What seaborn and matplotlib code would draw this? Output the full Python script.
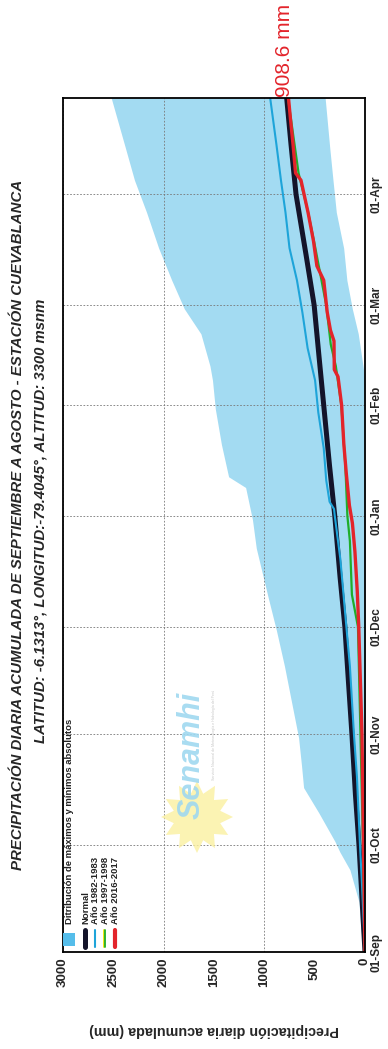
import matplotlib
matplotlib.use("Agg")
import matplotlib.pyplot as plt
import matplotlib.dates as mdates
from matplotlib.patches import Polygon, Rectangle
from matplotlib.lines import Line2D
import numpy as np
import pandas as pd
import seaborn as sns

# ---------------- data ----------------
band_dates = ["2016-09-01", "2016-09-07", "2016-09-15", "2016-09-19", "2016-09-24", "2016-09-29",
              "2016-10-02", "2016-10-10", "2016-10-17", "2016-10-23", "2016-10-31", "2016-11-10",
              "2016-11-20", "2016-11-30", "2016-12-09", "2016-12-23", "2016-12-31", "2017-01-09",
              "2017-01-12", "2017-01-21", "2017-01-31", "2017-02-08", "2017-02-12", "2017-02-21",
              "2017-02-28", "2017-03-08", "2017-03-17", "2017-03-27", "2017-04-05", "2017-04-14",
              "2017-04-28"]
band_max = [5, 40, 60, 100, 150, 250, 300, 460, 610, 630, 660, 730, 800, 880, 960, 1080, 1118,
            1186, 1355, 1426, 1487, 1515, 1540, 1630, 1795, 1920, 2050, 2170, 2290, 2380, 2521]
band_min = [0, 0, 0, 0, 0, 0, 0, 0, 0, 0, 0, 0, 0, 0, 0, 0, 0,
            0, 0, 0, 0, 0, 20, 67, 126, 180, 212, 285, 318, 350, 396]

normal_dates = ["2016-09-01", "2016-09-15", "2016-10-01", "2016-10-15", "2016-11-01", "2016-11-15",
                "2016-12-01", "2016-12-15", "2017-01-01", "2017-01-15", "2017-02-01", "2017-02-15",
                "2017-03-01", "2017-03-15", "2017-04-01", "2017-04-15", "2017-04-28"]
normal_mm = [0, 28, 60, 95, 130, 163, 200, 248, 300, 352, 410, 458, 505, 585, 685, 735, 778]

y8283_dates = ["2016-09-01", "2016-09-20", "2016-10-01", "2016-10-20", "2016-11-01", "2016-11-20",
               "2016-12-01", "2016-12-20", "2017-01-01", "2017-01-03", "2017-01-05", "2017-01-11",
               "2017-01-20", "2017-01-30", "2017-02-08", "2017-02-17", "2017-02-27", "2017-03-08",
               "2017-03-17", "2017-03-27", "2017-04-05", "2017-04-15", "2017-04-28"]
y8283_mm = [0, 30, 50, 80, 110, 150, 185, 245, 300, 308, 352, 385, 410, 464, 496, 570, 622, 676,
            750, 790, 835, 880, 942]

y9798_dates = ["2016-09-01", "2016-10-01", "2016-11-01", "2016-12-01", "2016-12-10", "2016-12-25",
               "2017-01-01", "2017-01-15", "2017-02-01", "2017-02-12", "2017-02-18", "2017-03-01",
               "2017-03-18", "2017-03-27", "2017-04-07", "2017-04-28"]
y9798_mm = [0, 20, 45, 70, 130, 150, 175, 195, 235, 290, 340, 385, 500, 565, 660, 765]

y1617_dates = ["2016-09-01", "2016-10-01", "2016-11-01", "2016-12-01", "2016-12-11", "2016-12-22",
               "2016-12-30", "2017-01-04", "2017-01-13", "2017-01-21", "2017-02-01", "2017-02-09",
               "2017-02-11", "2017-02-19", "2017-02-22", "2017-02-27", "2017-03-08", "2017-03-12",
               "2017-03-19", "2017-03-27", "2017-04-05", "2017-04-07", "2017-04-15", "2017-04-22",
               "2017-04-28"]
y1617_mm = [0, 15, 30, 62, 77, 100, 125, 155, 186, 210, 232, 268, 305, 308, 343, 375, 410, 478,
            512, 566, 636, 690, 715, 740, 760]

precip_major = [0, 1000, 2000, 3000]
precip_minor = [500, 1500, 2500]
legend_labels = ["Ditribución de máximos y mínimos absolutos", "Normal",
                 "Año 1982-1983", "Año 1997-1998", "Año 2016-2017"]
title_text = "PRECIPITACIÓN DIARIA ACUMULADA DE SEPTIEMBRE A AGOSTO - ESTACIÓN CUEVABLANCA"
subtitle_text = "LATITUD: -6.1313°, LONGITUD:-79.4045°, ALTITUD: 3300 msnm"
axis_label = "Precipitación diaria acumulada (mm)"
last_value_label = "908.6 mm"
date_start, date_end = "2016-09-01", "2017-04-28"

# ---------------- colours ----------------
c_band = "#a3dbf2"
c_band_leg = "#55bdea"
c_normal = "#14142a"
c_8283 = "#1ea4d9"
c_9798 = "#1fae2a"
c_1617 = "#e3242b"

sns.set_style("white")
plt.rcParams["font.family"] = ["Liberation Sans", "DejaVu Sans"]

W, H = 388, 1049
fig = plt.figure(figsize=(W / 100, H / 100), dpi=100)
fig.patch.set_facecolor("white")


def fx(x):
    return x / W


def fy(y):
    return 1 - y / H


ax = fig.add_axes([fx(63), fy(952), 302 / W, 854 / H])

bd = pd.to_datetime(band_dates)
ax.fill_betweenx(bd, band_min, band_max, color=c_band, lw=0, zorder=1)

sns.lineplot(x=normal_mm, y=pd.to_datetime(normal_dates), orient="y", sort=False,
             color=c_normal, lw=3.6, ax=ax, legend=False, zorder=3)
sns.lineplot(x=y8283_mm, y=pd.to_datetime(y8283_dates), orient="y", sort=False,
             color=c_8283, lw=1.5, ax=ax, legend=False, zorder=4)
sns.lineplot(x=y9798_mm, y=pd.to_datetime(y9798_dates), orient="y", sort=False,
             color=c_9798, lw=1.6, ax=ax, legend=False, zorder=5)
sns.lineplot(x=y1617_mm, y=pd.to_datetime(y1617_dates), orient="y", sort=False,
             color=c_1617, lw=2.4, ax=ax, legend=False, zorder=6)

ax.set_xlim(3000, 0)
ax.set_ylim(pd.Timestamp(date_start), pd.Timestamp(date_end))

# axes / ticks
ax.set_xticks(precip_major)
ax.set_xticklabels([str(v) for v in precip_major], rotation=90, fontweight="bold", fontsize=9.5)
ax.set_xticks(precip_minor, minor=True)
ax.set_xticklabels([str(v) for v in precip_minor], minor=True, rotation=90,
                   fontweight="bold", fontsize=9.5)
ax.tick_params(axis="x", which="both", length=0, pad=4)

ax.yaxis.tick_right()
ax.yaxis.set_major_locator(mdates.MonthLocator())
ax.yaxis.set_major_formatter(mdates.DateFormatter("%d-%b"))
ax.tick_params(axis="y", length=0, pad=4, labelsize=8.5)
for lb in ax.get_yticklabels():
    lb.set_rotation(90)
    lb.set_fontweight("bold")
    lb.set_va("center")

ax.grid(True, which="major", axis="both", color="#777777", lw=0.6, ls=(0, (2, 2)))
ax.set_axisbelow(False)
for gl in ax.get_xgridlines() + ax.get_ygridlines():
    gl.set_zorder(2)

for s in ax.spines.values():
    s.set_color("black")
    s.set_linewidth(1.3)
    s.set_zorder(10)

ax.set_ylabel("")
ax.set_xlabel(axis_label, rotation=180, fontweight="bold", fontsize=10.3)
ax.xaxis.set_label_coords(0.5, -(1030 - 952) / 854)
ax.xaxis.label.set_va("center")

# last value annotation
ax.annotate(last_value_label, xy=(y1617_mm[-1], pd.Timestamp(y1617_dates[-1])),
            xytext=(-3, 1), textcoords="offset points", rotation=90, ha="center", va="bottom",
            color=c_1617, fontsize=15, annotation_clip=False)

# titles (chart is printed sideways)
fig.text(fx(18), fy(525), title_text, rotation=90, ha="center", va="center",
         fontsize=10.8, fontweight="bold", fontstyle="italic")
fig.text(fx(41), fy(521), subtitle_text, rotation=90, ha="center", va="center",
         fontsize=10.7, fontweight="bold", fontstyle="italic")

# legend (rotated, drawn by hand)
leg_x = [69, 85, 95.5, 105.5, 115]
fig.patches.append(Rectangle((fx(63), fy(946)), 12 / W, 13 / H, transform=fig.transFigure,
                             facecolor=c_band_leg, edgecolor="none", figure=fig))
fig.add_artist(Line2D([fx(85), fx(85)], [fy(947), fy(930)], color=c_normal, lw=3.6,
                      transform=fig.transFigure))
fig.add_artist(Line2D([fx(95), fx(95)], [fy(947), fy(930)], color=c_8283, lw=1.5,
                      transform=fig.transFigure))
fig.add_artist(Line2D([fx(104), fx(104)], [fy(947), fy(930)], color="#f2e400", lw=1.3,
                      transform=fig.transFigure))
fig.add_artist(Line2D([fx(105.5), fx(105.5)], [fy(947), fy(930)], color=c_9798, lw=1.3,
                      transform=fig.transFigure))
fig.add_artist(Line2D([fx(115), fx(115)], [fy(947), fy(930)], color=c_1617, lw=3.0,
                      transform=fig.transFigure))
tx = [70, 85.5, 95.5, 105.5, 115]
for x, lab in zip(tx, legend_labels):
    fig.text(fx(x), fy(924), lab, rotation=90, ha="center", va="bottom", fontsize=6.8,
             fontweight="bold", color="#222222")

# Senamhi watermark
cx, cy, r_out, r_in, n = 197, 817, 36, 24, 12
ang = np.linspace(0, 2 * np.pi, 2 * n, endpoint=False)
rad = np.where(np.arange(2 * n) % 2 == 0, r_out, r_in)
pts = [(fx(cx + rr * np.cos(a)), fy(cy + rr * np.sin(a))) for a, rr in zip(ang, rad)]
fig.patches.append(Polygon(pts, closed=True, transform=fig.transFigure, facecolor="#fbf0a0",
                           edgecolor="none", alpha=0.8, figure=fig))
fig.text(fx(192), fy(755), "Senamhi", rotation=90, ha="center", va="center", fontsize=22,
         fontweight="bold", fontstyle="italic", color="#9fd8f0", alpha=0.9)
fig.text(fx(214), fy(735), "Servicio Nacional de Meteorología e Hidrología del Perú",
         rotation=90, ha="center", va="center", fontsize=2.6, color="#c8c8c8")

fig.savefig("out.png", dpi=100, facecolor="white")
